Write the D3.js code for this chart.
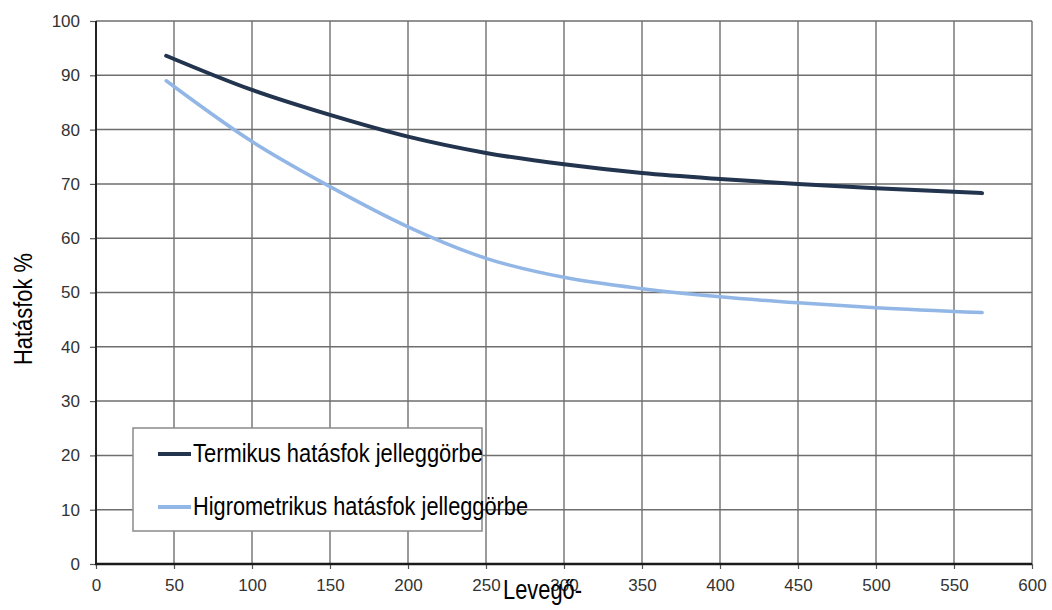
<!DOCTYPE html>
<html>
<head>
<meta charset="utf-8">
<script src="https://cdn.jsdelivr.net/npm/d3@7"></script>
<style>
  html, body { margin: 0; padding: 0; background: #fff; }
  svg { display: block; }
</style>
</head>
<body>
<svg id="chart" width="1052" height="610"></svg>
<script>
// ---- data ----
const airFlow = [45, 100, 150, 200, 250, 300, 350, 400, 450, 500, 568];
const termikus = [93.6, 87.3, 82.7, 78.7, 75.7, 73.6, 72.0, 70.9, 70.0, 69.2, 68.3];
const higrometrikus = [89.0, 77.8, 69.5, 62.1, 56.3, 52.8, 50.7, 49.2, 48.1, 47.2, 46.3];
const xTicks = [0, 50, 100, 150, 200, 250, 300, 350, 400, 450, 500, 550, 600];
const yTicks = [0, 10, 20, 30, 40, 50, 60, 70, 80, 90, 100];
const seriesNames = ["Termikus hatásfok jelleggörbe", "Higrometrikus hatásfok jelleggörbe"];
const seriesColors = ["#23344f", "#92b6e6"];
const yLabel = "Hatásfok %";
const xLabel = "Levegő-";

const svg = d3.select("#chart");
const x = d3.scaleLinear().domain([0, 600]).range([96, 1032]);
const y = d3.scaleLinear().domain([0, 100]).range([564, 21]);

const narrow = "'Liberation Sans Narrow','Arial Narrow','Liberation Sans',Arial,sans-serif";
const sans = "'Liberation Sans',Arial,sans-serif";

// grid
const grid = svg.append("g");
grid.selectAll("line.v").data(xTicks.filter(d => d > 0)).join("line")
  .attr("x1", d => x(d)).attr("x2", d => x(d))
  .attr("y1", y(0)).attr("y2", y(100))
  .attr("stroke", "#7a7a7a").attr("stroke-width", 1.5);
grid.selectAll("line.h").data(yTicks.filter(d => d > 0)).join("line")
  .attr("x1", x(0)).attr("x2", x(600))
  .attr("y1", d => y(d)).attr("y2", d => y(d))
  .attr("stroke", "#6e6e6e").attr("stroke-width", 1.5);

// axes
const xAxis = svg.append("g").attr("transform", `translate(0,${y(0)})`)
  .call(d3.axisBottom(x).tickValues(xTicks).tickSize(5).tickPadding(10).tickFormat(d3.format("d")));
const yAxis = svg.append("g").attr("transform", `translate(${x(0)},0)`)
  .call(d3.axisLeft(y).tickValues(yTicks).tickSize(6).tickPadding(10).tickFormat(d3.format("d")));
[xAxis, yAxis].forEach(a => {
  a.select(".domain").remove();
  a.selectAll(".tick line").attr("stroke", "#555").attr("stroke-width", 1.2);
  a.selectAll(".tick text").attr("fill", "#333").style("font-family", sans).style("font-size", "17px");
});
xAxis.selectAll(".tick text").attr("dy", "0.71em");
svg.append("line").attr("x1", x(0)).attr("x2", x(0)).attr("y1", y(0)).attr("y2", y(100))
  .attr("stroke", "#222").attr("stroke-width", 2);
svg.append("line").attr("x1", x(0) - 1).attr("x2", x(600)).attr("y1", y(0)).attr("y2", y(0))
  .attr("stroke", "#1a1a1a").attr("stroke-width", 2.5);

// lines
const line = d3.line().x((d, i) => x(airFlow[i])).y(d => y(d)).curve(d3.curveMonotoneX);
svg.append("path").datum(higrometrikus).attr("d", line)
  .attr("fill", "none").attr("stroke", seriesColors[1]).attr("stroke-width", 3.5).attr("stroke-linecap", "round");
svg.append("path").datum(termikus).attr("d", line)
  .attr("fill", "none").attr("stroke", seriesColors[0]).attr("stroke-width", 4).attr("stroke-linecap", "round");

// legend
const lg = svg.append("g");
lg.append("rect").attr("x", 133).attr("y", 428).attr("width", 349).attr("height", 103)
  .attr("fill", "#fff").attr("stroke", "#8a8a8a").attr("stroke-width", 1.5);
const legendRows = [{name: seriesNames[0], color: seriesColors[0], y: 454, len: 290},
                    {name: seriesNames[1], color: seriesColors[1], y: 507, len: 335}];
legendRows.forEach(r => {
  lg.append("line").attr("x1", 158).attr("x2", 191).attr("y1", r.y).attr("y2", r.y)
    .attr("stroke", r.color).attr("stroke-width", 4);
  lg.append("text").attr("x", 193).attr("y", r.y + 8).text(r.name)
    .attr("fill", "#000").style("font-family", narrow).style("font-size", "26px")
    .attr("textLength", r.len).attr("lengthAdjust", "spacingAndGlyphs");
});

// axis titles
svg.append("text").attr("transform", "translate(32,309) rotate(-90)")
  .attr("text-anchor", "middle").text(yLabel)
  .style("font-family", narrow).style("font-size", "26px").attr("fill", "#000")
  .attr("textLength", 112).attr("lengthAdjust", "spacingAndGlyphs");
svg.append("text").attr("x", 503).attr("y", 599).text(xLabel)
  .style("font-family", narrow).style("font-size", "27px").attr("fill", "#000")
  .attr("textLength", 79).attr("lengthAdjust", "spacingAndGlyphs");
</script>
</body>
</html>
